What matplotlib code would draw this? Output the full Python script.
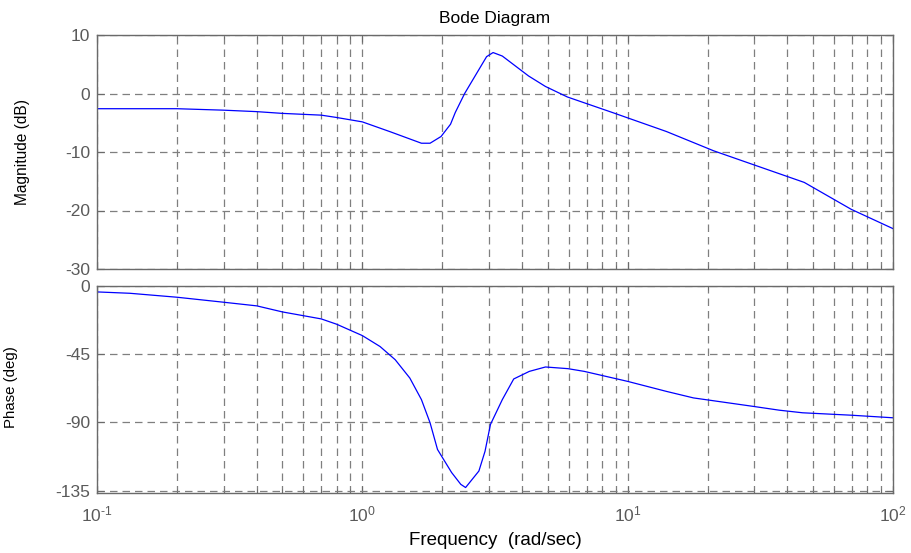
import matplotlib
matplotlib.use("Agg")
import matplotlib.pyplot as plt
import numpy as np
from matplotlib.ticker import LogLocator, NullFormatter, FixedLocator, FuncFormatter

plt.rcParams['font.family'] = ['Liberation Sans', 'DejaVu Sans']
plt.rcParams['axes.unicode_minus'] = False
plt.rcParams['mathtext.default'] = 'regular'

# Magnitude response samples (rad/sec, dB)
mag_freq = [0.1, 0.2, 0.3, 0.4, 0.5, 0.7, 0.8, 1.0, 1.276, 1.67, 1.8, 1.98,
            2.15, 2.24, 2.43, 2.94, 3.11, 3.37, 4.23, 4.9, 5.93, 8.76, 14.0,
            21.1, 46.3, 69.6, 100.0]
mag_db = [-2.6, -2.6, -2.85, -3.1, -3.4, -3.7, -4.1, -4.85, -6.55, -8.5, -8.5,
          -7.35, -5.25, -3.25, 0.0, 6.3, 7.0, 6.4, 3.0, 1.2, -0.6, -3.25, -6.5,
          -9.8, -15.2, -19.8, -23.1]

# Phase response samples (rad/sec, deg)
ph_freq = [0.1, 0.133, 0.2, 0.3, 0.4, 0.5, 0.7, 0.8, 1.0, 1.166, 1.33, 1.51,
           1.67, 1.8, 1.92, 2.17, 2.35, 2.45, 2.75, 2.9, 3.04, 3.37, 3.72,
           4.26, 4.9, 5.95, 6.86, 10.0, 14.0, 17.7, 29.5, 37.3, 45.6, 69.6,
           100.0]
ph_deg = [-3.9, -4.8, -7.4, -10.7, -13.1, -17.1, -21.7, -25.2, -32.7, -39.9,
          -48.6, -60.7, -74.9, -90.2, -107.8, -123.0, -130.8, -132.9, -122.0,
          -109.0, -91.3, -74.9, -61.3, -56.3, -53.4, -54.5, -56.3, -62.9,
          -69.5, -73.8, -79.3, -81.9, -83.6, -85.2, -86.9]

mag_ticks = [-30, -20, -10, 0, 10]
ph_ticks = [-135, -90, -45, 0]


def decade_label(x, pos):
    # power-of-ten label with a plain hyphen in the exponent
    e = int(round(np.log10(x)))
    exp = str(e).replace('-', '\u2010')
    return r'$10^{%s}$' % exp


W, H = 912, 553
fig = plt.figure(figsize=(W / 100, H / 100), dpi=100)
ax1 = fig.add_axes([97 / W, 1 - 269 / H, 796 / W, 234 / H])
ax2 = fig.add_axes([97 / W, 1 - 493 / H, 796 / W, 207 / H])

grid_kw = dict(color='#7f7f7f', linestyle=(0, (6, 4)), linewidth=0.9)
spine_c = '#6a6a6a'
tick_c = '#5a5a5a'

for ax in (ax1, ax2):
    ax.set_xscale('log')
    ax.set_xlim(0.1, 100)
    ax.xaxis.set_major_locator(LogLocator(base=10, numticks=10))
    ax.xaxis.set_minor_locator(LogLocator(base=10, subs=np.arange(2, 10), numticks=10))
    ax.xaxis.set_major_formatter(FuncFormatter(decade_label))
    ax.xaxis.set_minor_formatter(NullFormatter())
    ax.grid(True, which='major', axis='both', **grid_kw)
    ax.grid(True, which='minor', axis='x', **grid_kw)
    ax.tick_params(which='both', direction='in', top=True, right=True,
                   colors=spine_c, labelcolor=tick_c, labelsize=12.5)
    ax.tick_params(which='major', length=5)
    ax.tick_params(which='minor', length=3)
    ax.tick_params(axis='y', pad=5)
    ax.tick_params(axis='x', pad=8)
    for s in ax.spines.values():
        s.set_color(spine_c)
        s.set_linewidth(1.0)

ax1.plot(mag_freq, mag_db, color='#0000ff', linewidth=0.9)
ax1.set_ylim(-30, 10)
ax1.yaxis.set_major_locator(FixedLocator(mag_ticks))
ax1.set_xticklabels([])
ax1.set_ylabel('Magnitude (dB)', fontsize=11.2)
ax1.yaxis.set_label_coords(-0.084, 0.5)
ax1.set_title('Bode Diagram', fontsize=12.5, pad=9)

ax2.plot(ph_freq, ph_deg, color='#0000ff', linewidth=0.9)
ax2.set_ylim(-136.5, 0)
ax2.yaxis.set_major_locator(FixedLocator(ph_ticks))
ax2.set_ylabel('Phase (deg)', fontsize=10.8)
ax2.yaxis.set_label_coords(-0.099, 0.51)
ax2.set_xlabel('Frequency  (rad/sec)', fontsize=13.5, labelpad=6)

fig.savefig('out.png', dpi=100)
